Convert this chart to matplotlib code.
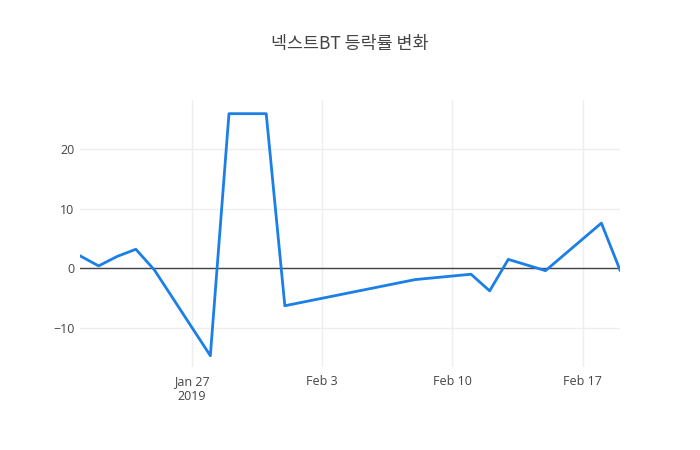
import matplotlib
matplotlib.use("Agg")
import matplotlib.pyplot as plt
import matplotlib.dates as mdates
import pandas as pd

dates = ["2019-01-21", "2019-01-22", "2019-01-23", "2019-01-24", "2019-01-25",
         "2019-01-28", "2019-01-29", "2019-01-30", "2019-01-31", "2019-02-01",
         "2019-02-08", "2019-02-11", "2019-02-12", "2019-02-13", "2019-02-15",
         "2019-02-18", "2019-02-19"]
values = [2.1, 0.4, 2.0, 3.2, -0.3,
          -14.7, 26.0, 26.0, 26.0, -6.3,
          -1.9, -1.0, -3.8, 1.5, -0.4,
          7.6, -0.3]
title = "넥스트BT 등락률 변화"
xtick_dates = ["2019-01-27", "2019-02-03", "2019-02-10", "2019-02-17"]
xtick_labels = ["Jan 27\n2019", "Feb 3", "Feb 10", "Feb 17"]
ytick_vals = [-10, 0, 10, 20]
ytick_labels = ["\u221210", "0", "10", "20"]

plt.rcParams['font.family'] = ['Open Sans', 'Noto Sans CJK KR', 'DejaVu Sans']

x = pd.to_datetime(dates)
fig = plt.figure(figsize=(7, 4.5), dpi=100)
ax = fig.add_axes([80/700, 83/450, 540/700, 267/450])

ax.plot(x, values, color='#1a7fe6', linewidth=2, zorder=3)
ax.axhline(0, color='#444444', linewidth=1, zorder=2)

ax.set_xlim(x[0], x[-1])
ax.set_ylim(-16.6, 28.3)

ax.set_xticks(pd.to_datetime(xtick_dates))
ax.set_xticklabels(xtick_labels)
ax.set_yticks(ytick_vals)
ax.set_yticklabels(ytick_labels)

ax.grid(True, color='#eeeeee', linewidth=1, zorder=0)
for s in ax.spines.values():
    s.set_visible(False)
ax.tick_params(length=0, labelsize=9, colors='#444444', pad=6)
ax.tick_params(axis='y', pad=4)

fig.text(0.5, 1 - 44/450, title, ha='center', va='center', fontsize=12.5,
         color='#444444', family=['Noto Sans CJK KR', 'DejaVu Sans'])

fig.savefig("out.png", dpi=100, facecolor='white')
